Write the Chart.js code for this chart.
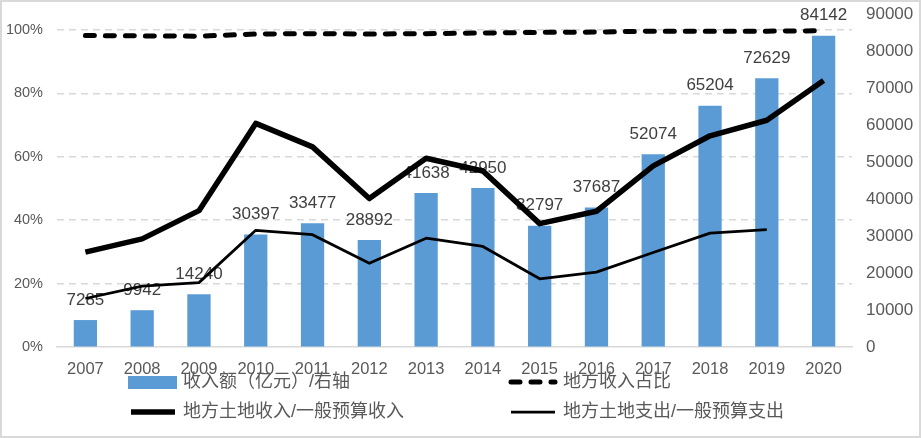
<!DOCTYPE html>
<html>
<head>
<meta charset="utf-8">
<script src="https://cdn.jsdelivr.net/npm/chart.js@4/dist/chart.umd.min.js"></script>
<style>
  html, body { margin: 0; padding: 0; background: #fff; }
  #wrap { width: 921px; height: 438px; position: relative; }
</style>
</head>
<body>
<div id="wrap"><canvas id="myChart"></canvas></div>
<script>

/* =====================
  data
===================== */

var years = ["2007","2008","2009","2010","2011","2012","2013","2014","2015","2016","2017","2018","2019","2020"];

// 收入额（亿元）, right axis
var income = [7285, 9942, 14240, 30397, 33477, 28892, 41638, 42950, 32797, 37687, 52074, 65204, 72629, 84142];

// 地方收入占比
var localShare = [0.982, 0.981, 0.980, 0.987, 0.988, 0.987, 0.988, 0.990, 0.992, 0.993, 0.996, 0.996, 0.996, 0.997];

// 地方土地收入/一般预算收入
var landIncomeRatio = [0.299, 0.341, 0.430, 0.705, 0.631, 0.468, 0.595, 0.555, 0.389, 0.428, 0.571, 0.666, 0.715, 0.840];

// 地方土地支出/一般预算支出
var landSpendRatio = [0.153, 0.192, 0.203, 0.368, 0.354, 0.264, 0.343, 0.317, 0.215, 0.236, 0.298, 0.359, 0.370, null];

var pctTicks = [0, 0.2, 0.4, 0.6, 0.8, 1.0];
var rightTicks = [0, 10000, 20000, 30000, 40000, 50000, 60000, 70000, 80000, 90000];

var labels = ["收入额（亿元）/右轴", "地方收入占比", "地方土地收入/一般预算收入", "地方土地支出/一般预算支出"];

var txtColor = "#595959";
var gridColor = "#D9D9D9";
var numFont = "'Liberation Sans', Arial, sans-serif";
var cjkFont = "'Liberation Sans', 'Noto Sans CJK SC', sans-serif";

/* =====================
  plugins
===================== */

// numbers over the bars (drawn right after the bars, before the lines)
var barLabels = {
  id: 'barLabels',
  afterDatasetDraw: function(chart, args) {
    if (args.index !== 0) return;
    var ctx = chart.ctx;
    ctx.save();
    ctx.font = "17px " + numFont;
    ctx.fillStyle = "#404040";
    ctx.textAlign = "center";
    ctx.textBaseline = "middle";
    args.meta.data.forEach(function(bar, i) {
      ctx.fillText(String(income[i]), bar.x, bar.y - 20);
    });
    ctx.restore();
  }
};

// two column legend like the excel one + outer frame
var sideLegend = {
  id: 'sideLegend',
  afterDraw: function(chart) {
    var ctx = chart.ctx;
    var ds = chart.data.datasets;
    var cols = [128, 508];
    var rows = [382, 412];
    ctx.save();
    ctx.font = "18px " + cjkFont;
    ctx.textBaseline = "middle";
    ctx.fillStyle = txtColor;
    ds.forEach(function(d, i) {
      var x = cols[i % 2];
      var y = rows[Math.floor(i / 2)];
      if (d.type === 'bar') {
        ctx.fillStyle = d.backgroundColor;
        ctx.fillRect(x, y - 6, 49, 13);
      } else {
        ctx.strokeStyle = d.borderColor;
        ctx.lineWidth = d.borderWidth;
        ctx.lineCap = d.borderCapStyle || 'butt';
        ctx.setLineDash(d.borderDash || []);
        ctx.beginPath();
        ctx.moveTo(x + 3, y);
        ctx.lineTo(x + 47, y);
        ctx.stroke();
        ctx.setLineDash([]);
      }
      ctx.fillStyle = txtColor;
      ctx.fillText(d.label, x + 55, y);
    });
    ctx.strokeStyle = gridColor;
    ctx.lineWidth = 2;
    ctx.strokeRect(1, 1, chart.width - 2, chart.height - 2);
    ctx.restore();
  }
};

/* =====================
  chart
===================== */

var config = {
  data: {
    labels: years,
    datasets: [{
      type: 'bar',
      label: labels[0],
      data: income,
      yAxisID: 'y1',
      backgroundColor: "#5B9BD5",
      barPercentage: 0.41,
      categoryPercentage: 1,
      order: 5
    }, {
      type: 'line',
      label: labels[1],
      data: localShare,
      yAxisID: 'y',
      borderColor: "#000",
      borderWidth: 5,
      borderDash: [9, 11],
      borderCapStyle: 'round',
      pointRadius: 0,
      tension: 0,
      order: 1
    }, {
      type: 'line',
      label: labels[2],
      data: landIncomeRatio,
      yAxisID: 'y',
      borderColor: "#000",
      borderWidth: 5.5,
      borderJoinStyle: 'round',
      pointRadius: 0,
      tension: 0,
      order: 1
    }, {
      type: 'line',
      label: labels[3],
      data: landSpendRatio,
      yAxisID: 'y',
      borderColor: "#000",
      borderWidth: 2.75,
      borderJoinStyle: 'round',
      pointRadius: 0,
      tension: 0,
      order: 1
    }]
  },
  options: {
    responsive: true,
    maintainAspectRatio: false,
    animation: false,
    devicePixelRatio: 1,
    layout: { padding: { top: 14, left: 0, right: 0, bottom: 0 } },
    plugins: {
      legend: { display: false },
      tooltip: { enabled: false }
    },
    scales: {
      x: {
        offset: true,
        grid: { display: false, drawTicks: false },
        border: { display: true, color: gridColor, width: 1.5 },
        ticks: { color: txtColor, font: { family: numFont, size: 16.5 }, padding: 13, maxRotation: 0 },
        afterFit: function(s) { s.height = 91; }
      },
      y: {
        position: 'left',
        min: 0,
        max: 1.05,
        bounds: 'data',
        grid: {
          drawTicks: true,
          tickLength: 14,
          tickColor: 'rgba(0,0,0,0)',
          lineWidth: 1.5,
          color: function(c) {
            var v = c.tick ? c.tick.value : -1;
            return (v > 0.01 && v < 1.01) ? gridColor : 'rgba(0,0,0,0)';
          }
        },
        border: { display: false, dash: [7, 5] },
        afterBuildTicks: function(s) {
          s.ticks = pctTicks.map(function(v) { return { value: v }; });
        },
        ticks: {
          color: txtColor,
          padding: 0,
          font: { family: numFont, size: 14.5 },
          callback: function(v) { return Math.round(v * 100) + '%'; }
        },
        afterFit: function(s) { s.width = 57; }
      },
      y1: {
        position: 'right',
        min: 0,
        max: 90000,
        grid: {
          drawOnChartArea: false,
          drawTicks: true,
          tickLength: 14,
          tickColor: 'rgba(0,0,0,0)',
          color: 'rgba(0,0,0,0)'
        },
        border: { display: false },
        afterBuildTicks: function(s) {
          s.ticks = rightTicks.map(function(v) { return { value: v }; });
        },
        ticks: {
          color: txtColor,
          padding: 0,
          font: { family: numFont, size: 17 },
          callback: function(v) { return String(v); }
        },
        afterFit: function(s) { s.width = 69; }
      }
    }
  },
  plugins: [barLabels, sideLegend]
};

var can = document.getElementById('myChart');
var ctx = can.getContext('2d');
var myChart = new Chart(ctx, config);

</script>
</body>
</html>
